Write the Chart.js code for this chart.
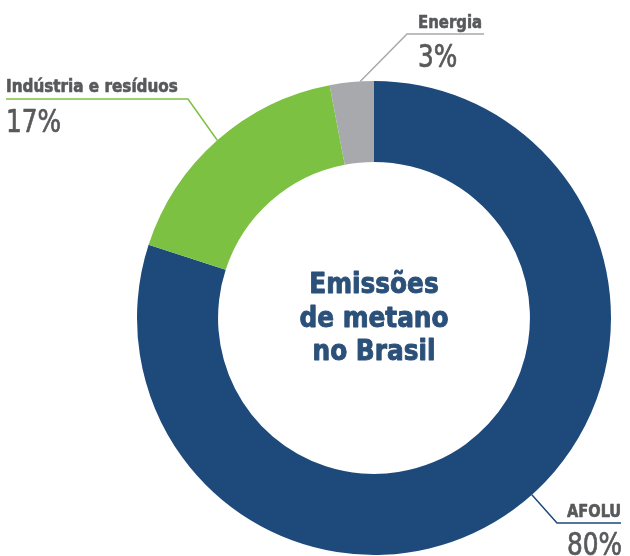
<!DOCTYPE html>
<html lang="pt-BR">
<head>
<meta charset="utf-8">
<title>Emissões de metano no Brasil</title>
<script src="https://cdn.jsdelivr.net/npm/chart.js@4"></script>
<style>
  html, body { margin: 0; padding: 0; background: #fff; }
  #wrap { width: 630px; height: 556px; position: relative; }
</style>
</head>
<body>
<div id="wrap"><canvas id="metanoChart" width="630" height="556"></canvas></div>
<script>
// Participação por setor (%)
const categories = ['AFOLU', 'Indústria e resíduos', 'Energia'];
const shares = [80, 17, 3];
const centerTitle = ['Emissões', 'de metano', 'no Brasil'];

const sliceColors = ['#1d4a7a', '#7dc142', '#a7a9ac'];
const labelColor = '#58595b';
const titleColor = '#2b5079';
const FONT = "'DejaVu Sans Condensed', 'DejaVu Sans', sans-serif";

// posição das chamadas: ponto no arco (fração do ângulo), cotovelo, fim da linha e texto
const callouts = [
    { frac: 0.48, elbow: [557, 523], end: [621, 523], tx: 567, nameY: 517, pctY: 555, sx: 0.9 },
    { frac: 0.5, elbow: [188, 99], end: [6, 99], tx: 6, nameY: 92, pctY: 132, sx: 0.94 },
    { frac: 0.69, elbow: [407, 34], end: [484, 34], tx: 418, nameY: 28, pctY: 67, sx: 0.92 }
];

// texto comprimido na horizontal (fonte condensada), com contorno leve para engrossar
function drawText(ctx, text, x, y, font, color, sx, weight, align) {
    ctx.save();
    ctx.font = font;
    ctx.fillStyle = color;
    ctx.strokeStyle = color;
    ctx.lineWidth = weight;
    ctx.lineJoin = 'round';
    ctx.textBaseline = 'alphabetic';
    ctx.textAlign = align || 'left';
    ctx.translate(x, y);
    ctx.scale(sx, 1);
    ctx.fillText(text, 0, 0);
    if (weight > 0) ctx.strokeText(text, 0, 0);
    ctx.restore();
}

const calloutPlugin = {
    id: 'callouts',
    afterDraw(chart) {
        const ctx = chart.ctx;
        const meta = chart.getDatasetMeta(0);
        meta.data.forEach((arc, i) => {
            const c = callouts[i];
            const p = arc.getProps(['x', 'y', 'startAngle', 'endAngle', 'outerRadius'], true);
            const a = p.startAngle + (p.endAngle - p.startAngle) * c.frac;
            const sx = p.x + Math.cos(a) * p.outerRadius;
            const sy = p.y + Math.sin(a) * p.outerRadius;

            ctx.save();
            ctx.strokeStyle = sliceColors[i];
            ctx.lineWidth = 1.5;
            ctx.beginPath();
            ctx.moveTo(sx, sy);
            ctx.lineTo(c.elbow[0], c.elbow[1]);
            ctx.lineTo(c.end[0], c.end[1]);
            ctx.stroke();
            ctx.restore();

            drawText(ctx, categories[i], c.tx, c.nameY, 'bold 18px ' + FONT, labelColor, c.sx, 0.6);
            drawText(ctx, shares[i] + '%', c.tx, c.pctY, '32px ' + FONT, labelColor, 0.86, 0.7);
        });

        // título no centro da rosca
        const cx = meta.data[0].x;
        const cy = meta.data[0].y;
        const offsets = [-25, 9, 42];
        centerTitle.forEach((line, k) => {
            drawText(ctx, line, cx, cy + offsets[k], 'bold 29px ' + FONT, titleColor, 0.95, 0.9, 'center');
        });
    }
};

const ctx = document.getElementById('metanoChart').getContext('2d');
new Chart(ctx, {
    type: 'doughnut',
    data: {
        labels: categories,
        datasets: [{
            data: shares,
            backgroundColor: sliceColors,
            borderWidth: 0
        }]
    },
    options: {
        responsive: false,
        animation: false,
        cutout: '65.8%',
        rotation: 0,
        layout: { padding: { left: 137, right: 19, top: 81, bottom: 1 } },
        plugins: {
            legend: { display: false },
            tooltip: { enabled: false }
        }
    },
    plugins: [calloutPlugin]
});
</script>
</body>
</html>
